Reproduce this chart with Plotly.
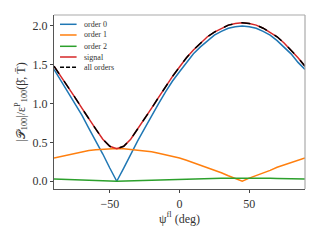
import plotly.graph_objects as go

psi = [-90, -85, -80, -75, -70, -65, -60, -55, -50, -45, -40, -35, -30, -25, -20, -15, -10, -5,
       0, 5, 10, 15, 20, 25, 30, 35, 40, 45, 50, 55, 60, 65, 70, 75, 80, 85, 90]

order0 = [1.44, 1.29, 1.15, 1.00, 0.85, 0.68, 0.52, 0.35, 0.17, 0.00, 0.17, 0.35, 0.52, 0.68, 0.85,
          1.00, 1.15, 1.29, 1.41, 1.53, 1.64, 1.73, 1.81, 1.88, 1.93, 1.97, 1.99, 2.00, 1.99, 1.97,
          1.93, 1.88, 1.81, 1.73, 1.64, 1.53, 1.44]

order1 = [0.30, 0.32, 0.34, 0.36, 0.38, 0.395, 0.405, 0.41, 0.418, 0.42, 0.418, 0.41, 0.405, 0.395,
          0.38, 0.36, 0.34, 0.32, 0.30, 0.27, 0.24, 0.21, 0.18, 0.14, 0.11, 0.07, 0.04, 0.00, 0.04,
          0.07, 0.11, 0.14, 0.18, 0.21, 0.24, 0.27, 0.30]

order2 = [0.028, 0.026, 0.023, 0.020, 0.017, 0.014, 0.010, 0.007, 0.003, 0.000, 0.003, 0.007, 0.010,
          0.014, 0.017, 0.020, 0.023, 0.026, 0.028, 0.031, 0.033, 0.035, 0.036, 0.038, 0.039, 0.039,
          0.040, 0.040, 0.040, 0.039, 0.039, 0.038, 0.036, 0.035, 0.033, 0.031, 0.028]

signal = [1.48, 1.35, 1.22, 1.08, 0.94, 0.80, 0.67, 0.54, 0.45, 0.42, 0.45, 0.54, 0.67, 0.80, 0.94,
          1.08, 1.22, 1.35, 1.47, 1.59, 1.69, 1.78, 1.86, 1.92, 1.97, 2.01, 2.03, 2.04, 2.03, 2.01,
          1.97, 1.92, 1.86, 1.78, 1.69, 1.59, 1.48]

all_orders = signal[:]

series_names = ["order 0", "order 1", "order 2", "signal", "all orders"]
series_values = [order0, order1, order2, signal, all_orders]
series_colors = ["#1f77b4", "#ff7f0e", "#2ca02c", "#d62728", "black"]
series_dash = ["solid", "solid", "solid", "solid", "dash"]

x_ticks = [-50, 0, 50]
y_ticks = [0.0, 0.5, 1.0, 1.5, 2.0]

FONT = "Liberation Serif"
TXT = "#333333"

fig = go.Figure()
for name, vals, col, dsh in zip(series_names, series_values, series_colors, series_dash):
    fig.add_trace(go.Scatter(x=psi, y=vals, mode="lines", name=name, showlegend=False,
                             line=dict(color=col, width=1.5, dash=dsh)))

# compact legend drawn in paper coordinates (matplotlib-like spacing)
leg_rows = [0.9466, 0.8851, 0.8201, 0.7586, 0.6994]
shapes = []
annotations = []
for name, col, dsh, yy in zip(series_names, series_colors, series_dash, leg_rows):
    shapes.append(dict(type="line", xref="paper", yref="paper", x0=0.024, x1=0.090,
                       y0=yy, y1=yy, line=dict(color=col, width=1.5,
                                               dash="4px,2px" if dsh == "dash" else "solid")))
    annotations.append(dict(xref="paper", yref="paper", x=0.110, y=yy, text=name,
                            showarrow=False, xanchor="left", yanchor="middle",
                            font=dict(family=FONT, size=8, color=TXT)))

shapes += [
    dict(type="line", xref="paper", yref="paper", x0=0, x1=1, y0=1, y1=1,
         line=dict(color="#aaaaaa", width=1.2)),
    dict(type="line", xref="paper", yref="paper", x0=1, x1=1, y0=0, y1=1,
         line=dict(color="#aaaaaa", width=1.2)),
]

axis_common = dict(showgrid=False, zeroline=False, showline=True, linecolor="#555555",
                   linewidth=1.2, mirror=False, ticks="outside", ticklen=3, tickwidth=1,
                   tickcolor="#444444",
                   tickfont=dict(family=FONT, size=12, color=TXT), automargin=False)

fig.update_layout(
    width=320, height=240,
    margin=dict(l=54, r=15, t=15, b=51),
    paper_bgcolor="white", plot_bgcolor="white",
    font=dict(family=FONT, color=TXT),
    showlegend=False,
    xaxis=dict(range=[-90, 90], tickvals=x_ticks,
               title=dict(text="ψ<sup>fl</sup> (deg)", font=dict(family=FONT, size=12, color=TXT),
                          standoff=4),
               **axis_common),
    yaxis=dict(range=[-0.1, 2.14], tickvals=y_ticks, tickformat=".1f",
               title=dict(text="|𝒫<sub>100</sub>|/ε<sup>P</sup><sub>100</sub>(β̄, T̄)",
                          font=dict(family=FONT, size=12, color=TXT), standoff=4),
               **axis_common),
    shapes=shapes,
    annotations=annotations,
)

fig.write_html("out.html", config={"displayModeBar": False},
               post_script="document.body.style.margin='0';")
